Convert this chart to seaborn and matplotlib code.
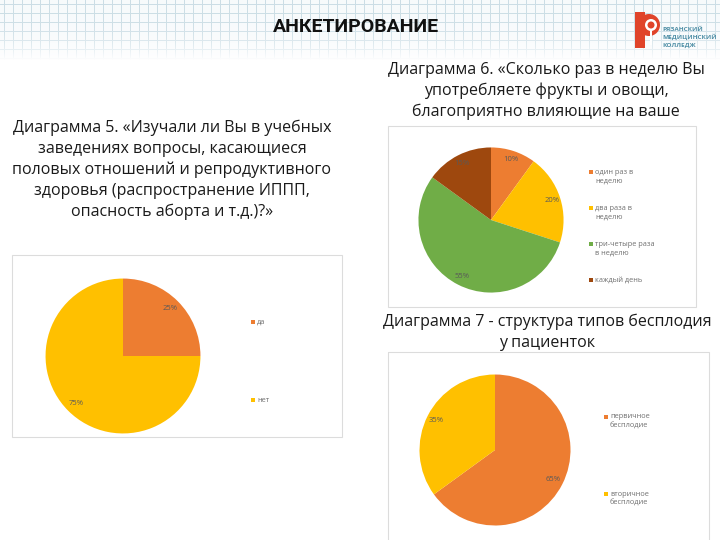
import numpy as np
import matplotlib
matplotlib.use("Agg")
import matplotlib.pyplot as plt
from matplotlib.patches import Rectangle, Circle
import seaborn as sns

sns.set_theme(style="white")
plt.rcParams['font.family'] = ['Open Sans', 'DejaVu Sans']

# ---------------- data ----------------
title = "АНКЕТИРОВАНИЕ"

q5_lines = ["Диаграмма 5. «Изучали ли Вы в учебных",
            "заведениях вопросы, касающиеся",
            "половых отношений и репродуктивного",
            "здоровья (распространение ИППП,",
            "опасность аборта и т.д.)?»"]
q5_labels = ["да", "нет"]
q5_values = [25, 75]

q6_lines = ["Диаграмма 6. «Сколько раз в неделю Вы",
            "употребляете фрукты и овощи,",
            "благоприятно влияющие на ваше"]
q6_labels = ["один раз в\nнеделю", "два раза в\nнеделю", "три-четыре раза\nв неделю", "каждый день"]
q6_values = [10, 20, 55, 15]

q7_lines = ["Диаграмма 7 - структура типов бесплодия", "у пациенток"]
q7_labels = ["первичное\nбесплодие", "вторичное\nбесплодие"]
q7_values = [65, 35]

logo_lines = ["РЯЗАНСКИЙ", "МЕДИЦИНСКИЙ", "КОЛЛЕДЖ"]

orange, yellow, green, brown = "#ED7D31", "#FFC000", "#70AD47", "#9E480E"
pal5 = sns.color_palette([orange, yellow])
pal6 = sns.color_palette([orange, yellow, green, brown])
pal7 = sns.color_palette([orange, yellow])

W, H = 720, 540
fig = plt.figure(figsize=(7.2, 5.4), dpi=100)
fig.patch.set_facecolor("white")

def fx(x): return x / W
def fy(y): return 1 - y / H

# background grid band at the top
bg = fig.add_axes([0, 0, 1, 1], zorder=-10)
img = np.ones((H, W, 3))
grid_col = np.array([0.80, 0.87, 0.90])
for y in range(0, 62):
    fade = max(0.0, 1 - (y / 60.0) ** 3)
    for x in range(W):
        if x % 9 == 4 or y % 9 == 4:
            img[y, x] = 1 - (1 - grid_col) * fade
        else:
            img[y, x] = 1 - (1 - np.array([0.95, 0.97, 0.98])) * fade * 0.6
bg.imshow(img, extent=[0, W, H, 0], aspect="auto", interpolation="bilinear")
bg.set_xlim(0, W); bg.set_ylim(H, 0)
bg.axis("off")

# title
fig.text(fx(356), fy(27), title, ha="center", va="center", fontsize=14,
         fontweight="bold", family=["Roboto", "DejaVu Sans"], color="#111111")

# logo
bg.add_patch(Rectangle((635, 12), 10, 36, color="#E0442A", lw=0))
bg.add_patch(Circle((649, 25), 11, color="#E0442A", lw=0))
bg.add_patch(Circle((651, 25), 6, color="white", lw=0))
bg.add_patch(Circle((651, 25), 3.5, color="#E0442A", lw=0))
bg.add_patch(Rectangle((649.5, 31), 2, 14, color="white", lw=0))
for i, t in enumerate(logo_lines):
    fig.text(fx(662), fy(29 + i * 8), t, ha="left", va="center", fontsize=4.6,
             fontweight="bold", color="#4f8fa6")

# chart boxes
for (x0, y0, x1, y1) in [(12, 255, 342, 437), (388, 126, 696, 307), (388, 352, 709, 545)]:
    bg.add_patch(Rectangle((x0, y0), x1 - x0, y1 - y0, fill=False, ec="#dcdcdc", lw=0.8))

# question texts
txt_kw = dict(ha="center", va="center", fontsize=11.5, color="#1a1a1a")
for i, t in enumerate(q5_lines):
    fig.text(fx(172), fy(128 + i * 21), t, **txt_kw)
for i, t in enumerate(q6_lines):
    fig.text(fx(546), fy(70 + i * 21), t, **txt_kw)
for i, t in enumerate(q7_lines):
    fig.text(fx(547), fy(322 + i * 21), t, **txt_kw)

def draw_pie(values, colors, cx, cy, r, pctd):
    ax = fig.add_axes([fx(cx - r), fy(cy + r), 2 * r / W, 2 * r / H])
    ax.pie(values, colors=colors, startangle=90, counterclock=False,
           autopct="%.0f%%", pctdistance=pctd,
           textprops=dict(fontsize=5.5, color="#595959"),
           wedgeprops=dict(linewidth=0))
    ax.set_xlim(-1.02, 1.02); ax.set_ylim(-1.02, 1.02)
    ax.set_aspect("equal")
    ax.axis("off")
    return ax

def draw_legend(labels, colors, x, ys):
    for lab, c, y in zip(labels, colors, ys):
        bg.add_patch(Rectangle((x - 2, y - 2), 4, 4, color=c, lw=0))
        fig.text(fx(x + 4), fy(y - 3.5), lab, ha="left", va="top", fontsize=5.3,
                 color="#707070", linespacing=1.35)

draw_pie(q5_values, pal5, 123, 356, 79, 0.86)
draw_legend(q5_labels, pal5, 253, [322, 400])

draw_pie(q6_values, pal6, 491, 220, 74, 0.88)
draw_legend(q6_labels, pal6, 591, [172, 208, 244, 280])

draw_pie(q7_values, pal7, 495, 450, 77, 0.87)
draw_legend(q7_labels, pal7, 606, [417, 494])

fig.savefig("out.png", dpi=100, facecolor="white")
